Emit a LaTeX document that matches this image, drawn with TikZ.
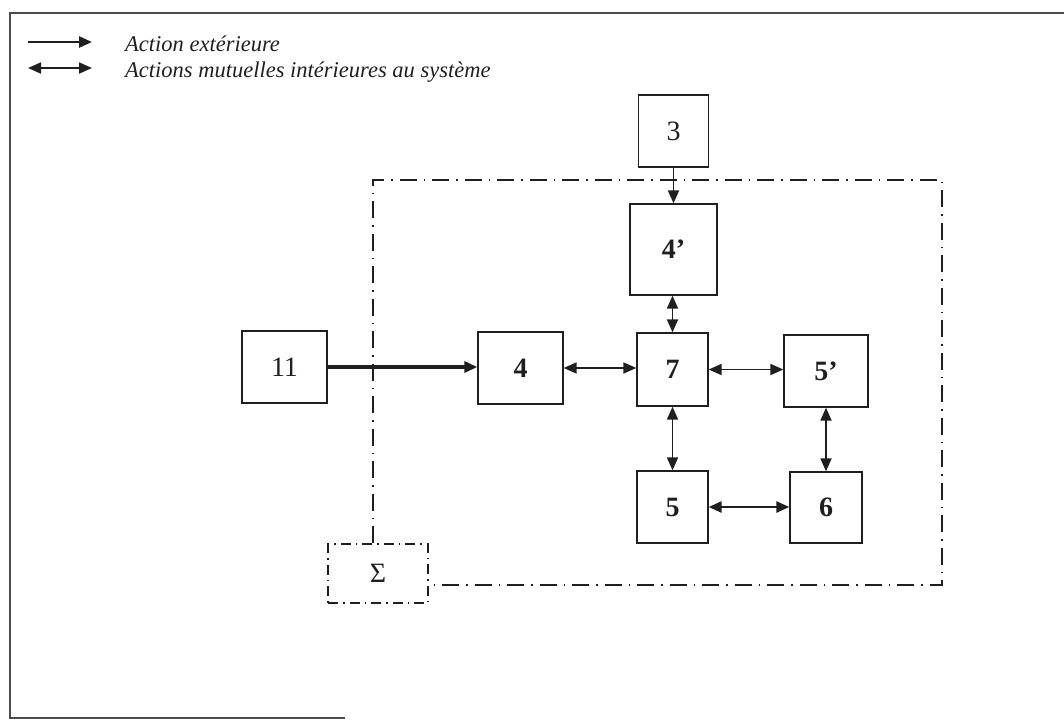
\documentclass[tikz,border=0pt]{standalone}
\usepackage{fontspec}
\setmainfont{Liberation Serif}
\usetikzlibrary{arrows.meta}
\colorlet{ink}{black!88}
\tikzset{
  blk/.style={draw=ink, line width=1.3pt, inner sep=0pt, text=ink, font=\fontsize{28}{32}\selectfont},
  bf/.style={font=\fontsize{28}{32}\selectfont\bfseries},
  tip/.style={-{Triangle[length=13pt,width=11pt]}},
  duo/.style={{Triangle[length=13pt,width=11pt]}-{Triangle[length=13pt,width=11pt]}},
  link/.style={draw=ink, line width=1.8pt},
  sysline/.style={draw=ink, line width=1.9pt, dash pattern=on 17pt off 7pt on 1.5pt off 7pt},
  sigline/.style={draw=ink, line width=1.7pt, dash pattern=on 10pt off 5pt on 1.5pt off 5pt},
  legend/.style={anchor=west, font=\fontsize{22.5}{26}\selectfont\itshape, text=ink, inner sep=0pt},
  frameline/.style={draw=black!70, line width=1.4pt}
}
\begin{document}
\begin{tikzpicture}[x=1pt,y=-1pt]
\useasboundingbox (0,0) rectangle (1064,721);

% outer frame (left, top and part of the bottom edge)
\draw[frameline] (345,718) -- (10,718) -- (10,13) -- (1064,13);

% legend
\coordinate (la1) at (28,42);  \coordinate (lb1) at (92,42);
\coordinate (la2) at (28,68);  \coordinate (lb2) at (92,68);
\draw[link, line width=2.6pt, tip, ink] (la1) -- (lb1);
\draw[link, duo, ink] (la2) -- (lb2);
\node[legend] (t1) at (125,44) {Action extérieure};
\node[legend] (t2) at (125,72) {Actions mutuelles intérieures au système};

% blocks
\node[blk, minimum width=70pt, minimum height=72pt] (n3)  at (673.5,131) {3};
\node[blk, bf, minimum width=87pt, minimum height=91pt] (n4p) at (673.5,249.5) {4’};
\node[blk, minimum width=85pt, minimum height=72pt] (n11) at (284.5,367) {11};
\node[blk, bf, minimum width=85pt, minimum height=72pt] (n4)  at (520.5,368) {4};
\node[blk, bf, minimum width=71pt, minimum height=73pt] (n7)  at (672.5,369.5) {7};
\node[blk, bf, minimum width=84pt, minimum height=72pt] (n5p) at (826,371) {5’};
\node[blk, bf, minimum width=71pt, minimum height=72pt] (n5)  at (672.5,507) {5};
\node[blk, bf, minimum width=72pt, minimum height=71pt] (n6)  at (826,507.5) {6};
\node[sigline, minimum width=100pt, minimum height=59pt, inner sep=0pt, text=ink,
      font=\fontsize{28}{32}\selectfont] (sig) at (378,573.5) {Σ};

% system boundary
\coordinate (tl) at (373,180);
\coordinate (tr) at (942,180);
\coordinate (br) at (942,585);
\draw[sysline] (sig.north -| tl) -- (tl) -- (tr) -- (br) -- (sig.east |- br);

% exterior actions
\draw[link, tip, ink] (n3.south) -- (n4p.north);
\draw[link, line width=3.2pt, tip, ink] (n11.east) -- (n4.west |- n11.east);

% mutual interior actions
\draw[link, duo, ink] (n4p.south -| n7.north) -- (n7.north);
\draw[link, duo, ink] (n4.east) -- (n7.west |- n4.east);
\draw[link, duo, ink] (n7.east) -- (n5p.west |- n7.east);
\draw[link, duo, ink] (n7.south) -- (n5.north);
\draw[link, duo, ink] (n5p.south) -- (n6.north -| n5p.south);
\draw[link, line width=2.6pt, duo, ink] (n5.east) -- (n6.west |- n5.east);
\end{tikzpicture}
\end{document}
